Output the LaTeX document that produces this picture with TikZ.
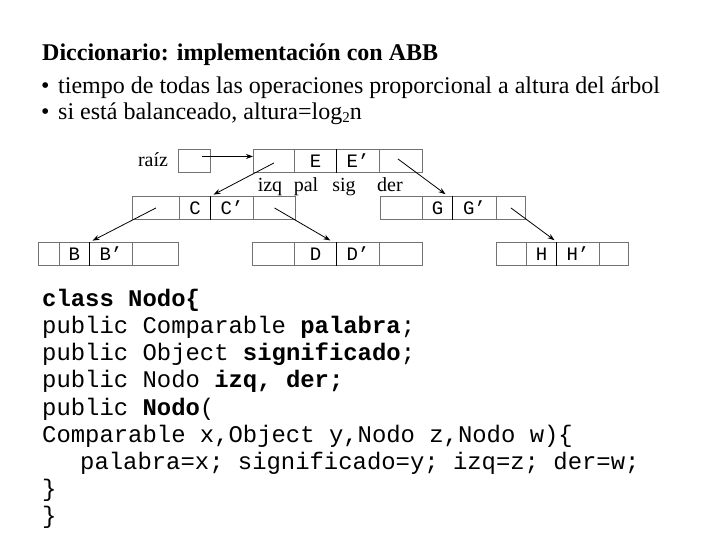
\documentclass[tikz,border=0pt]{standalone}
\usepackage{fontspec}
\setmainfont{Liberation Serif}
\newfontfamily\codefont{Liberation Mono}
\usetikzlibrary{arrows.meta}
\tikzset{
  cell/.style={draw=black!55, line width=0.9pt, inner sep=0pt, minimum height=23pt,
    anchor=north west, font=\codefont\fontsize{19}{19}\selectfont},
  keyline/.style={draw=black, line width=0.9pt},
  ptr/.style={draw=black, line width=0.8pt, -{Stealth[length=7pt,width=5pt]}, shorten >=3pt},
  lbl/.style={font=\fontsize{20}{20}\selectfont, anchor=base, inner sep=0pt},
  code/.style={font=\codefont\fontsize{23.9}{27}\selectfont, anchor=base west, inner sep=0pt},
  txt/.style={anchor=base west, inner sep=0pt, font=\fontsize{24}{24}\selectfont}
}
\begin{document}
\begin{tikzpicture}[x=1pt,y=-1pt]
\useasboundingbox (0,0) rectangle (720,540);
% header
\node[txt, font=\bfseries\fontsize{24}{24}\selectfont] (title) at (42,61) {Diccionario: implementación con ABB};
\node[txt] (b1d) at (41,94) {•};
\node[txt] (b1) at (58,94) {tiempo de todas las operaciones proporcional a altura del árbol};
\node[txt] (b2d) at (41,120) {•};
\node[txt] (b2) at (58,120) {si está balanceado, altura=log\raisebox{-3pt}{\fontsize{15}{15}\selectfont 2}n};
% raiz
\node[lbl] (raizl) at (153,167) {raíz};
\node[cell, minimum width=32pt] (raiz) at (178,149) {};
% root
\node[cell, minimum width=41pt] (r1) at (253,149) {};
\node[cell, minimum width=42pt] (r2) at (294,149) {E};
\node[cell, minimum width=43pt] (r3) at (336,149) {E’};
\node[cell, minimum width=43pt] (r4) at (379,149) {};
\draw[keyline] (r2.north east) -- (r2.south east);
\node[lbl] (lizq) at (270,192) {izq};
\node[lbl] (lpal) at (306,192) {pal};
\node[lbl] (lsig) at (344,192) {sig};
\node[lbl] (lder) at (390,192) {der};
% C
\node[cell, minimum width=47pt] (c1) at (132,196) {};
\node[cell, minimum width=31pt] (c2) at (179,196) {C};
\node[cell, minimum width=43pt] (c3) at (210,196) {C’};
\node[cell, minimum width=42pt] (c4) at (253,196) {};
\draw[keyline] (c2.north east) -- (c2.south east);
% G
\node[cell, minimum width=42pt] (g1) at (380,196) {};
\node[cell, minimum width=30pt] (g2) at (422,196) {G};
\node[cell, minimum width=44pt] (g3) at (452,196) {G’};
\node[cell, minimum width=29pt] (g4) at (496,196) {};
\draw[keyline] (g2.north east) -- (g2.south east);
% B
\node[cell, minimum width=21pt] (bb1) at (38,242) {};
\node[cell, minimum width=30pt] (bb2) at (59,242) {B};
\node[cell, minimum width=43pt] (bb3) at (89,242) {B’};
\node[cell, minimum width=46pt] (bb4) at (132,242) {};
\draw[keyline] (bb2.north east) -- (bb2.south east);
% D
\node[cell, minimum width=42pt] (d1) at (252,242) {};
\node[cell, minimum width=42pt] (d2) at (294,242) {D};
\node[cell, minimum width=43pt] (d3) at (336,242) {D’};
\node[cell, minimum width=43pt] (d4) at (379,242) {};
\draw[keyline] (d2.north east) -- (d2.south east);
% H
\node[cell, minimum width=30pt] (h1) at (496,242) {};
\node[cell, minimum width=30pt] (h2) at (526,242) {H};
\node[cell, minimum width=43pt] (h3) at (556,242) {H’};
\node[cell, minimum width=29pt] (h4) at (599,242) {};
\draw[keyline] (h2.north east) -- (h2.south east);
% pointers
\draw[ptr, shorten >=0pt] ([xshift=8pt,yshift=4.5pt]raiz.center) -- ([yshift=4.5pt]r1.west);
\draw[ptr] ([yshift=-2pt]r1.center) -- (c2.north east);
\draw[ptr] ([xshift=-3pt,yshift=2pt]r4.center) -- ([xshift=-5pt]g2.north east);
\draw[ptr] (c1.center) -- (bb2.north east);
\draw[ptr] (c4.center) -- ([xshift=-4pt]d2.north east);
\draw[ptr] (g4.center) -- (h2.north east);
% code
\node[code] (k1) at (42,306) {\bfseries class Nodo\{};
\node[code] (k2) at (42,333) {public Comparable \textbf{palabra};};
\node[code] (k3) at (42,360) {public Object \textbf{significado};};
\node[code] (k4) at (42,387) {public Nodo \textbf{izq, der;}};
\node[code] (k5) at (42,415) {public \textbf{Nodo}(};
\node[code] (k6) at (42,442) {Comparable x,Object y,Nodo z,Nodo w)\{};
\node[code] (k7) at (80,469) {palabra=x; significado=y; izq=z; der=w;};
\node[code] (k8) at (42,496) {\}};
\node[code] (k9) at (42,523) {\}};
\end{tikzpicture}
\end{document}
